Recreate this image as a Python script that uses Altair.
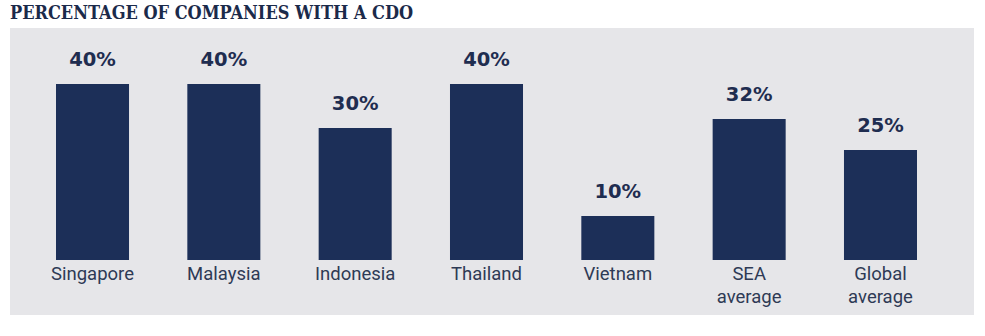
import altair as alt
import pandas as pd

categories = ["Singapore", "Malaysia", "Indonesia", "Thailand", "Vietnam", "SEA average", "Global average"]
values = [40, 40, 30, 40, 10, 32, 25]
value_labels = ["40%", "40%", "30%", "40%", "10%", "32%", "25%"]

df = pd.DataFrame({"country": categories, "pct": values, "label": value_labels})

x_enc = alt.X(
    "country:N",
    sort=categories,
    scale=alt.Scale(range=[46, 907], paddingInner=0.444, paddingOuter=0),
    axis=alt.Axis(
        title=None, ticks=False, domain=False, grid=False,
        labelAngle=0, labelPadding=0, offset=-51,
        labelBaseline="top", labelFont="Roboto", labelFontSize=18.5,
        labelColor="#2e3a55", labelLineHeight=23,
        labelExpr="split(datum.label, ' ')",
    ),
)
y_scale = alt.Scale(domain=[-12.5, 52.7], nice=False, zero=False)

bars = alt.Chart(df).mark_bar(color="#1c2f58").encode(
    x=x_enc,
    y=alt.Y("pct:Q", scale=y_scale, axis=None),
)

texts = alt.Chart(df).mark_text(
    font="DejaVu Sans", fontWeight="bold", fontSize=19.5, color="#1f2d50",
    baseline="alphabetic", dy=-18,
).encode(
    x=alt.X("country:N", sort=categories),
    y=alt.Y("pct:Q", scale=y_scale, axis=None),
    text="label:N",
)

chart = (bars + texts).properties(
    width=964,
    height=287,
    title=alt.TitleParams(
        "PERCENTAGE OF COMPANIES WITH A CDO",
        anchor="start", frame="group", font="DejaVu Serif Condensed, DejaVu Serif", fontSize=18,
        fontWeight="bold", color="#1b2a4a", baseline="alphabetic", offset=-9,
    ),
    autosize=alt.AutoSizeParams(type="none"),
    padding={"left": 10, "top": 28, "right": 11, "bottom": 21},
    background="white",
).configure_view(fill="#e6e6e9", stroke=None)

chart.save("out.html", embed_options={"renderer": "svg", "actions": False})
